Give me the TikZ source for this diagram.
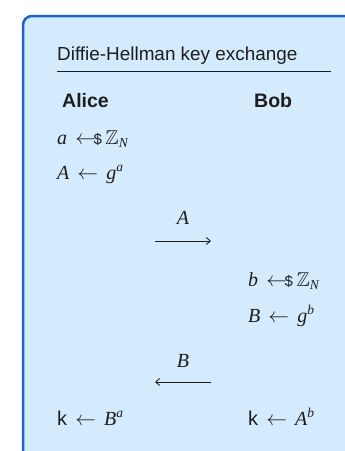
\documentclass[tikz,border=0pt]{standalone}
\usepackage{amssymb}
\usepackage[no-math]{fontspec}
\setsansfont{Liberation Sans}
\newfontfamily\tms{Liberation Serif}
\usetikzlibrary{arrows.meta}
\definecolor{boxblue}{HTML}{1F62C9}
\definecolor{boxfill}{HTML}{D3EBFD}
\definecolor{ink}{HTML}{1E1E1E}
\newcommand{\iv}[1]{\mbox{\tms\itshape #1}}
\newcommand{\sv}[1]{\mbox{\tms\itshape\fontsize{13.5}{13}\selectfont #1}}
\newcommand{\lar}{\mathrel{\mkern2mu\leftarrow\mkern2mu}}
\newcommand{\smparrow}{\mathrel{\mkern2mu\leftarrow\mkern-7mu\mbox{\sffamily\fontsize{15}{15}\selectfont\$}\mkern-2mu}}
\begin{document}
\begin{tikzpicture}[x=1pt,y=-1pt,
  txt/.style={anchor=base west, inner sep=0pt, text=ink, font=\fontsize{20}{24}\selectfont},
  lbl/.style={anchor=base, inner sep=0pt, text=ink, font=\fontsize{20}{24}\selectfont},
  hdr/.style={anchor=base west, inner sep=0pt, text=ink, font=\sffamily\fontsize{18.9}{22}\selectfont},
  who/.style={anchor=base west, inner sep=0pt, text=ink, font=\sffamily\bfseries\fontsize{19.5}{22}\selectfont},
  msg/.style={draw=ink, line width=0.9pt, -{Straight Barb[length=4pt,width=7pt]}}]
\useasboundingbox (0,0) rectangle (345,451);
\begin{scope}
  \clip (0,0) rectangle (345,451);
  \draw[boxblue, fill=boxfill, line width=2.5pt, rounded corners=9pt] (23,16) rectangle (380,490);
\end{scope}
\node[hdr] (title) at (57,60) {Diffie-Hellman key exchange};
\coordinate (rl) at (57,71);
\coordinate (rr) at (331,71);
\draw[ink, line width=0.9pt] (rl) -- (rr);
\node[who] (alice) at (62,107) {Alice};
\node[who] (bob) at (254,107) {Bob};
\node[txt] (a1) at (57,144) {$\iv{a} \smparrow \mathbb{Z}_{\sv{N}}$};
\node[txt] (a2) at (57,179) {$\iv{A} \lar \iv{g}^{\sv{a}}$};
\node[lbl] (la) at (183,224) {$\iv{A}$};
\coordinate (m1s) at (155,241);
\coordinate (m1e) at (211,241);
\draw[msg] (m1s) -- (m1e);
\node[txt] (b1) at (248,286) {$\iv{b} \smparrow \mathbb{Z}_{\sv{N}}$};
\node[txt] (b2) at (248,322) {$\iv{B} \lar \iv{g}^{\sv{b}}$};
\node[lbl] (lb) at (183,367) {$\iv{B}$};
\coordinate (m2s) at (211,382);
\coordinate (m2e) at (155,382);
\draw[msg] (m2s) -- (m2e);
\node[txt] (ka) at (57,425) {$\mbox{\sffamily k} \lar \iv{B}^{\sv{a}}$};
\node[txt] (kb) at (248,425) {$\mbox{\sffamily k} \lar \iv{A}^{\sv{b}}$};
\end{tikzpicture}
\end{document}
